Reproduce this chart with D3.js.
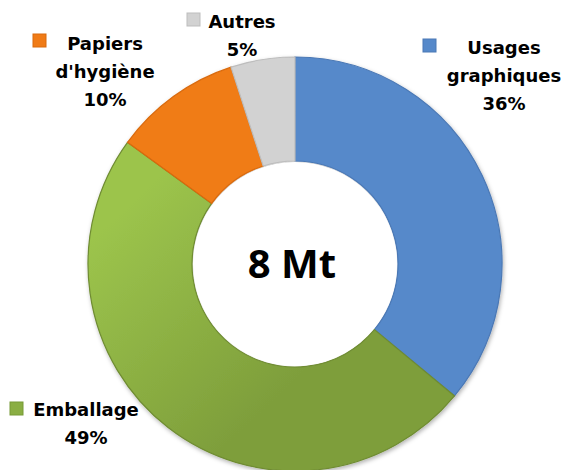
<!DOCTYPE html>
<html>
<head>
<meta charset="utf-8">
<script src="https://cdn.jsdelivr.net/npm/d3@7"></script>
<style>
  body { margin: 0; background: #fff; }
  svg { display: block; }
</style>
</head>
<body>
<script>
const width = 564;
const height = 470;

// data
const categories = ["Usages graphiques", "Emballage", "Papiers d'hygiène", "Autres"];
const values = [36, 49, 10, 5];
const colors = ["#5689CA", "#8CB545", "#F07B16", "#D2D2D2"];
const darkColors = ["#4A78B5", "#779A36", "#D96A0C", "#BDBDBD"];
const labelLines = [["Usages", "graphiques", "36%"], ["Emballage", "49%"], ["Papiers", "d'hygiène", "10%"], ["Autres", "5%"]];
const centerText = "8 Mt";

const cx = 295, cy = 264;
const outerR = 207, innerR = 103;

const svg = d3.select("body")
    .append("svg")
    .attr("width", width)
    .attr("height", height);

const defs = svg.append("defs");

// shadow for the ring
const shadow = defs.append("filter")
    .attr("id", "shadow")
    .attr("x", "-20%").attr("y", "-20%")
    .attr("width", "140%").attr("height", "140%");
shadow.append("feDropShadow")
    .attr("dx", 1).attr("dy", 2)
    .attr("stdDeviation", 2)
    .attr("flood-color", "#000")
    .attr("flood-opacity", 0.3);

// green slice: light on the left, darker at the bottom
// (coords are relative to the ring group, which is translated to the center)
const greenGrad = defs.append("linearGradient")
    .attr("id", "gradGreen")
    .attr("gradientUnits", "userSpaceOnUse")
    .attr("x1", -outerR).attr("y1", -outerR * 0.1)
    .attr("x2", -outerR * 0.2).attr("y2", outerR * 0.75);
greenGrad.append("stop").attr("offset", "0%").attr("stop-color", "#9CC44C");
greenGrad.append("stop").attr("offset", "100%").attr("stop-color", "#7E9E3B");

const pie = d3.pie().sort(null).value(d => d);
const arcs = pie(values);

const arc = d3.arc().innerRadius(innerR).outerRadius(outerR);

const ring = svg.append("g")
    .attr("transform", `translate(${cx},${cy})`)
    .attr("filter", "url(#shadow)");

ring.selectAll("path")
    .data(arcs)
    .enter()
    .append("path")
    .attr("d", arc)
    .attr("fill", (d, i) => i == 1 ? "url(#gradGreen)" : colors[i])
    .attr("stroke", (d, i) => i == 1 ? "#6F8C32" : darkColors[i])
    .attr("stroke-width", 1.2);

// white hole
svg.append("circle")
    .attr("cx", cx)
    .attr("cy", cy)
    .attr("r", innerR - 1)
    .attr("fill", "#fff");

svg.append("text")
    .attr("x", cx - 3)
    .attr("y", cy - 2)
    .attr("text-anchor", "middle")
    .attr("dominant-baseline", "central")
    .style("font-family", "'Open Sans', sans-serif")
    .style("font-weight", 700)
    .style("font-size", "40px")
    .style("fill", "#000")
    .text(centerText);

// label anchors (center x, first line y) and marker position
const labelPos = [
    { x: 504, y: 47, mx: 423, my: 39 },
    { x: 86, y: 409, mx: 10, my: 402 },
    { x: 105, y: 43, mx: 33, my: 34 },
    { x: 242, y: 21, mx: 187, my: 13 }
];
const lineHeight = 28;

const labels = svg.selectAll("g.label")
    .data(categories)
    .enter()
    .append("g")
    .attr("class", "label");

labels.append("rect")
    .attr("x", (d, i) => labelPos[i].mx)
    .attr("y", (d, i) => labelPos[i].my)
    .attr("width", 13)
    .attr("height", 13)
    .attr("fill", (d, i) => i == 1 ? "#8AAE43" : colors[i])
    .attr("stroke", (d, i) => darkColors[i])
    .attr("stroke-width", 1);

labels.each(function (d, i) {
    const g = d3.select(this);
    labelLines[i].forEach((line, j) => {
        g.append("text")
            .attr("x", labelPos[i].x)
            .attr("y", labelPos[i].y + j * lineHeight)
            .attr("text-anchor", "middle")
            .attr("dominant-baseline", "central")
            .style("font-family", "'DejaVu Sans', sans-serif")
            .style("font-weight", 700)
            .style("font-size", "18px")
            .style("fill", "#000")
            .text(line);
    });
});
</script>
</body>
</html>
